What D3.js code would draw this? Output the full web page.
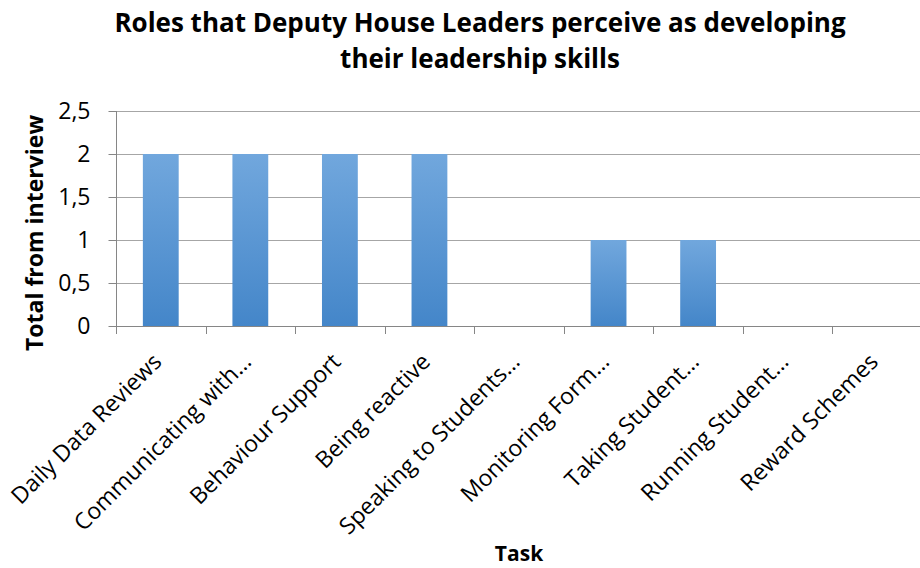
<!DOCTYPE html>
<html>
<head>
<meta charset="utf-8">
<script src="https://cdn.jsdelivr.net/npm/d3@7"></script>
<style>
  body { margin: 0; background: white; }
  text { font-family: "Open Sans", "Liberation Sans", sans-serif; fill: #000; }
</style>
</head>
<body>
<svg class="chart" width="920" height="568"></svg>
<script>
// Bar chart: roles perceived as developing leadership skills.

var tasks = ["Daily Data Reviews", "Communicating with\u2026", "Behaviour Support", "Being reactive",
    "Speaking to Students\u2026", "Monitoring Form\u2026", "Taking Student\u2026", "Running Student\u2026", "Reward Schemes"];
var totals = [2, 2, 2, 2, 0, 1, 1, 0, 0];
var yTicks = [0, 0.5, 1, 1.5, 2, 2.5];
var titleLines = ["Roles that Deputy House Leaders perceive as developing", "their leadership skills"];

var PLOT_L = 116, PLOT_R = 922, PLOT_T = 111, PLOT_B = 326;

var svg = d3.select(".chart");

var x = d3.scaleBand().domain(tasks).range([PLOT_L, PLOT_R]).paddingInner(0).paddingOuter(0);
var y = d3.scaleLinear().domain([0, 2.5]).range([PLOT_B, PLOT_T]);

// Gradient for bars
var grad = svg.append("defs").append("linearGradient")
    .attr("id", "barGrad").attr("x1", 0).attr("y1", 0).attr("x2", 0).attr("y2", 1);
grad.append("stop").attr("offset", "0%").attr("stop-color", "#71a7dd");
grad.append("stop").attr("offset", "100%").attr("stop-color", "#4486c9");

// Gridlines
svg.append("g").selectAll("line")
    .data(yTicks.filter(function (d) { return d > 0; }))
    .join("line")
    .attr("x1", PLOT_L).attr("x2", PLOT_R)
    .attr("y1", function (d) { return Math.round(y(d)) + 0.5; })
    .attr("y2", function (d) { return Math.round(y(d)) + 0.5; })
    .attr("stroke", "#a6a6a6").attr("stroke-width", 1);

// Bars
var bw = x.bandwidth() * 0.4;
svg.append("g").selectAll("rect")
    .data(tasks)
    .join("rect")
    .attr("x", function (d) { return x(d) + (x.bandwidth() - bw) / 2; })
    .attr("width", bw)
    .attr("y", function (d, i) { return y(totals[i]); })
    .attr("height", function (d, i) { return PLOT_B - y(totals[i]); })
    .attr("fill", "url(#barGrad)");

// Y axis
var yAxis = svg.append("g")
    .attr("transform", "translate(" + (PLOT_L + 0.5) + ",0)")
    .call(d3.axisLeft(y).tickValues(yTicks).tickSize(8).tickPadding(18)
        .tickFormat(function (d) { return String(d).replace(".", ","); }));
yAxis.select(".domain").attr("stroke", "#868686").attr("d", "M0," + PLOT_T + "V" + (PLOT_B + 0.5));
yAxis.selectAll(".tick line").attr("stroke", "#868686");
yAxis.selectAll(".tick text").style("font-size", "23px").attr("fill", "#000");

// X axis line and ticks at category boundaries
var xg = svg.append("g");
xg.append("line")
    .attr("x1", PLOT_L).attr("x2", PLOT_R)
    .attr("y1", PLOT_B + 0.5).attr("y2", PLOT_B + 0.5)
    .attr("stroke", "#868686");
xg.selectAll(".xtick")
    .data(tasks)
    .join("line")
    .attr("class", "xtick")
    .attr("x1", function (d) { return Math.round(x(d)) + 0.5; })
    .attr("x2", function (d) { return Math.round(x(d)) + 0.5; })
    .attr("y1", PLOT_B).attr("y2", PLOT_B + 8)
    .attr("stroke", "#868686");

// X labels (rotated)
xg.selectAll(".xlabel")
    .data(tasks)
    .join("text")
    .attr("class", "xlabel")
    .attr("text-anchor", "end")
    .attr("transform", function (d) {
        return "translate(" + (x(d) + x.bandwidth() / 2 - 10) + "," + (PLOT_B + 25) + ") rotate(-45)";
    })
    .attr("dy", "0.75em")
    .style("font-size", "23px")
    .text(function (d) { return d; });

// Title
svg.append("text")
    .attr("text-anchor", "middle")
    .attr("x", 480).attr("y", 32)
    .style("font-size", "26px").style("font-weight", "bold")
    .selectAll("tspan")
    .data(titleLines)
    .join("tspan")
    .attr("x", 480)
    .attr("dy", function (d, i) { return i == 0 ? 0 : 36; })
    .text(function (d) { return d; });

// Axis titles
svg.append("text")
    .attr("text-anchor", "middle")
    .attr("transform", "translate(43,233) rotate(-90)")
    .style("font-size", "23px").style("font-weight", "bold")
    .text("Total from interview");

svg.append("text")
    .attr("text-anchor", "middle")
    .attr("x", 519).attr("y", 561)
    .style("font-size", "21px").style("font-weight", "bold")
    .text("Task");
</script>
</body>
</html>
